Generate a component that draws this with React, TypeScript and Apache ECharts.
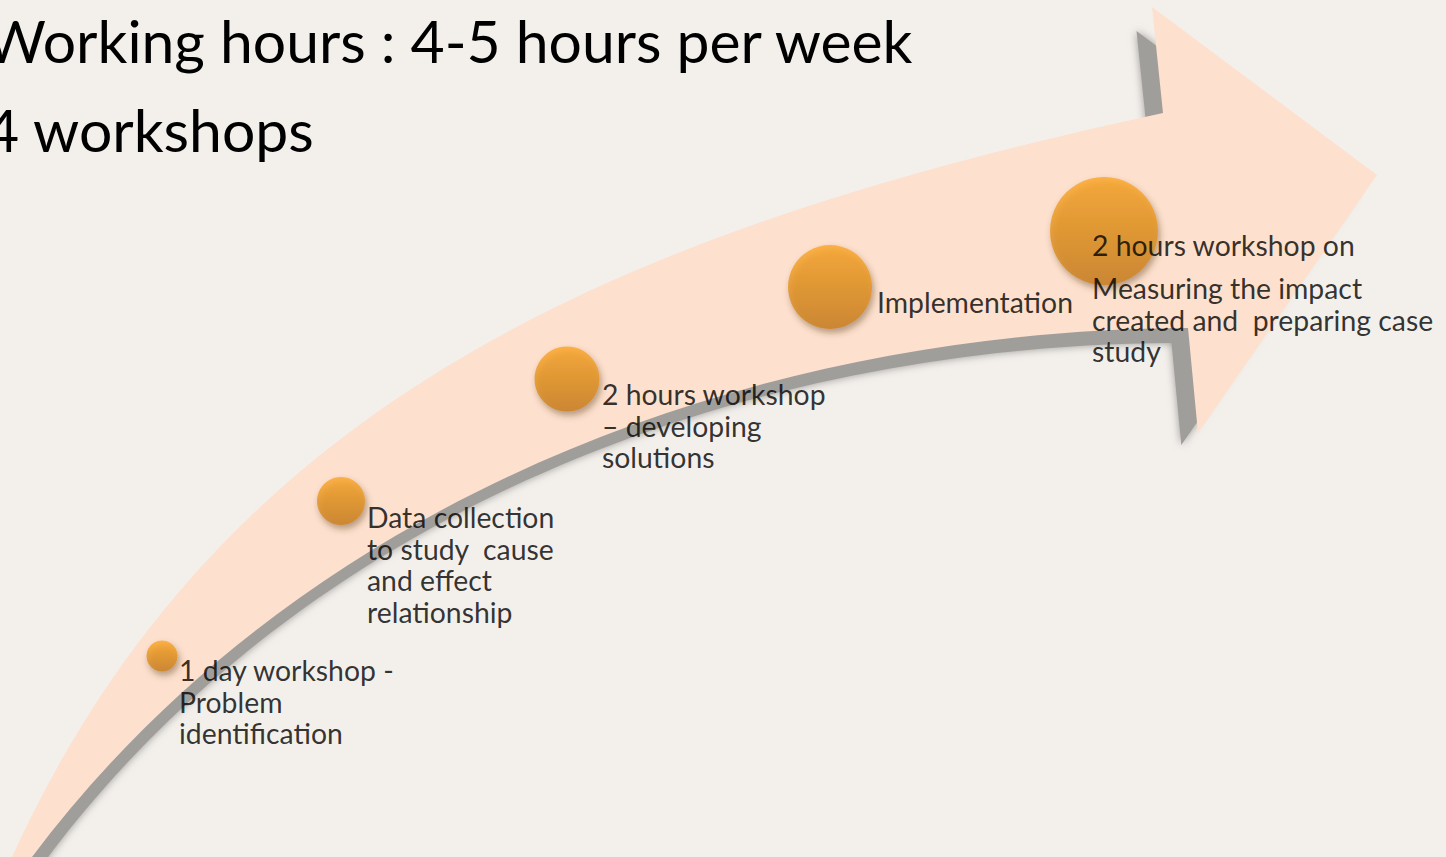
import React, { useEffect, useRef } from 'react';
import * as echarts from 'echarts';

const W = 1446;
const H = 857;

// ---- data ----
const titleLines = ['Working hours : 4-5 hours per week', '4 workshops'];
const stepNames = ['Problem identification', 'Data collection', 'Developing solutions', 'Implementation', 'Measuring impact'];
const stepX = [162, 341, 567, 830, 1104];
const stepY = [656, 501, 379, 287, 231];
const stepDiameter = [31, 48, 65, 84, 108];
const stepLabels = [
  ['1 day workshop -', 'Problem', 'identification'],
  ['Data collection', 'to study  cause', 'and effect', 'relationship'],
  ['2 hours workshop', '– developing', 'solutions'],
  ['Implementation'],
  ['2 hours workshop on', 'Measuring the impact', 'created and  preparing case', 'study'],
];

// ---- layout (text anchors: left x, centre y of first line) ----
const labelAnchor = [
  [179, 670],
  [367, 517],
  [602, 394],
  [877, 302],
  [1092, 245],
];
const FONT = 'Lato, "Noto Sans", sans-serif';
const LINE_H = 31.5;
const HEAD_LINE_H = 54.5;

// arrow geometry
const A = {
  start: [12, 857], c1: [220, 400], c2: [620, 230], notchTop: [1163, 113],
  headTop: [1152, 7], tip: [1377, 175], headBottom: [1198, 433], notchBottom: [1188, 328],
  lc1: [750, 330], lc2: [300, 500], end: [32, 857],
};

function arrowD(tf: (x: number, y: number) => number[]) {
  const p = (q: number[]) => {
    const r = tf(q[0], q[1]);
    return `${r[0].toFixed(1)} ${r[1].toFixed(1)}`;
  };
  return `M${p(A.start)} C${p(A.c1)} ${p(A.c2)} ${p(A.notchTop)} L${p(A.headTop)} L${p(A.tip)} L${p(A.headBottom)} L${p(A.notchBottom)} C${p(A.lc1)} ${p(A.lc2)} ${p(A.end)} L32 900 L12 900 Z`;
}

const bodyD = arrowD((x, y) => [x, y]);
const shadowD = arrowD((x, y) => [600 + 0.972 * (x - 600), 400 + 0.972 * (y - 400) + 13]);

echarts.graphic.registerShape('arrowBody', echarts.graphic.extendPath(bodyD, {}));
echarts.graphic.registerShape('arrowShadow', echarts.graphic.extendPath(shadowD, {}));

function measure(text: string, size: number) {
  const c = document.createElement('canvas').getContext('2d') as CanvasRenderingContext2D;
  c.font = `${size}px Lato`;
  return c.measureText(text).width;
}

export default function App() {
  const ref = useRef<HTMLDivElement>(null);

  useEffect(() => {
    if (!ref.current) return;
    const chart = echarts.init(ref.current, undefined, { renderer: 'svg' });

    const labelSize = (100 * 196) / measure('Implementation', 100);
    const titleSize = (100 * 695) / measure('hours : 4-5 hours per week', 100);
    const titleX = 220 - measure('Working ', titleSize);

    const data = stepX.map((x, i) => {
      const d = stepDiameter[i];
      const [tx, ty] = labelAnchor[i];
      const firstHalf = i === 4 ? HEAD_LINE_H / 2 : LINE_H / 2;
      return {
        name: stepNames[i],
        value: [x, stepY[i], d],
        label: {
          position: [tx - (x - d / 2), ty - firstHalf - (stepY[i] - d / 2)],
        },
      };
    });

    chart.setOption({
      animation: false,
      backgroundColor: '#F3F0EC',
      grid: { left: 0, right: 0, top: 0, bottom: 0, containLabel: false },
      xAxis: { type: 'value', min: 0, max: W, show: false },
      yAxis: { type: 'value', min: 0, max: H, inverse: true, show: false },
      graphic: [
        {
          type: 'arrowShadow', x: 0, y: 0, z: 0, silent: true,
          style: { fill: 'rgb(160,158,155)', shadowBlur: 9, shadowColor: 'rgba(150,148,145,0.95)' },
        },
        { type: 'arrowBody', x: 0, y: 0, z: 1, silent: true, style: { fill: '#FDE0CD' } },
        {
          type: 'text', x: titleX, y: 40, z: 10, silent: true,
          style: { text: titleLines[0], fontFamily: 'Lato', fontSize: titleSize, fill: '#000', verticalAlign: 'middle', align: 'left' },
        },
        {
          type: 'text', x: titleX, y: 129, z: 10, silent: true,
          style: { text: titleLines[1], fontFamily: 'Lato', fontSize: titleSize, fill: '#000', verticalAlign: 'middle', align: 'left' },
        },
      ],
      series: [
        {
          type: 'scatter',
          z: 5,
          symbol: 'circle',
          symbolSize: (v: number[]) => v[2],
          data,
          itemStyle: {
            color: new echarts.graphic.LinearGradient(0, 0, 0, 1, [
              { offset: 0, color: '#FCA626' },
              { offset: 1, color: '#CB7F1B' },
            ]),
            shadowBlur: 6,
            shadowColor: 'rgba(80,50,25,0.5)',
            shadowOffsetX: 2,
            shadowOffsetY: 4,
          },
          label: {
            show: true,
            align: 'left',
            verticalAlign: 'top',
            formatter: (p: any) =>
              stepLabels[p.dataIndex]
                .map((l, k) => (p.dataIndex === 4 && k === 0 ? `{h|${l}}` : `{b|${l}}`))
                .join('\n'),
            rich: {
              b: { fontFamily: FONT, fontSize: labelSize, lineHeight: LINE_H, color: '#000' },
              h: { fontFamily: FONT, fontSize: labelSize, lineHeight: HEAD_LINE_H, color: '#000' },
            },
          },
          emphasis: { disabled: true },
        },
      ],
    });

    return () => chart.dispose();
  }, []);

  return <div ref={ref} style={{ position: 'fixed', left: 0, top: 0, width: W, height: H }} />;
}
